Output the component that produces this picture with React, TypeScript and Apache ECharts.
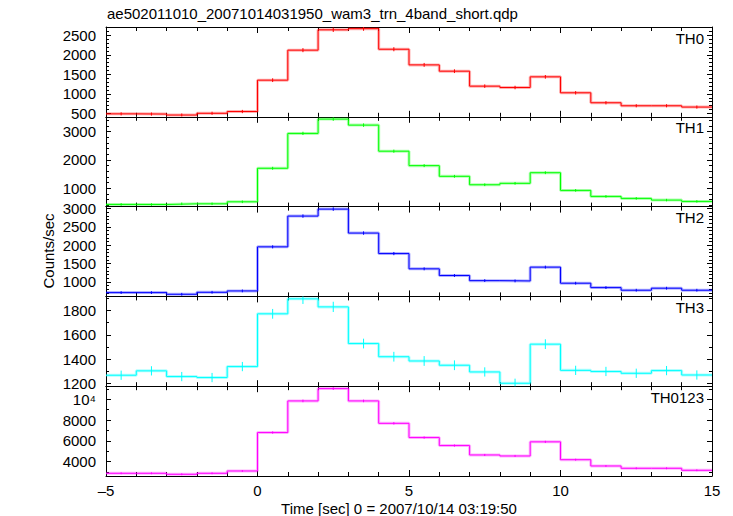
import React, { useEffect, useRef } from "react";
import * as echarts from "echarts";

// ---- data ----
const titleText = "ae502011010_20071014031950_wam3_trn_4band_short.qdp";
const xAxisTitle = "Time [sec] 0 = 2007/10/14 03:19:50";
const yAxisTitle = "Counts/sec";

const binEdges = [-5, -4, -3, -2, -1, 0, 1, 2, 3, 4, 5, 6, 7, 8, 9, 10, 11, 12, 13, 14, 15];
const bandNames = ["TH0", "TH1", "TH2", "TH3", "TH0123"];

const th0 = [490, 485, 460, 505, 550, 1352, 2120, 2640, 2670, 2143, 1743, 1582, 1199, 1164, 1437, 1029, 774, 697, 697, 664];
const th1 = [435, 432, 456, 456, 527, 1707, 2935, 3438, 3226, 2308, 1800, 1424, 1127, 1177, 1551, 929, 717, 647, 587, 541];
const th2 = [709, 709, 664, 718, 755, 1954, 2791, 2981, 2329, 1771, 1356, 1174, 1035, 1027, 1402, 965, 845, 774, 829, 774];
const th3 = [1269, 1305, 1258, 1250, 1340, 1773, 1896, 1830, 1529, 1421, 1386, 1351, 1296, 1203, 1524, 1309, 1300, 1285, 1307, 1271];
const th0123 = [2884, 2884, 2788, 2884, 3106, 6798, 9836, 11020, 9836, 7683, 6317, 5548, 4645, 4548, 5904, 4192, 3587, 3365, 3365, 3173];

const th0Err = [40, 40, 40, 40, 42, 48, 52, 55, 55, 52, 50, 48, 45, 45, 47, 44, 42, 40, 40, 40];
const th1Err = [45, 45, 45, 45, 46, 52, 58, 60, 60, 55, 52, 50, 48, 48, 50, 46, 45, 45, 44, 44];
const th2Err = [38, 38, 38, 38, 38, 42, 46, 48, 46, 44, 40, 40, 38, 38, 40, 38, 38, 38, 38, 38];
const th3Err = [38, 38, 38, 38, 38, 40, 42, 42, 40, 40, 40, 40, 38, 38, 40, 38, 38, 38, 38, 38];
const th0123Err = [90, 90, 90, 90, 92, 110, 125, 130, 125, 115, 110, 105, 100, 100, 105, 95, 92, 92, 92, 90];

const bandValues = [th0, th1, th2, th3, th0123];
const bandErrors = [th0Err, th1Err, th2Err, th3Err, th0123Err];

// axis extents / tick settings per panel
const yMins = [415, 358, 606, 1179, 2624];
const yMaxs = [2712, 3519, 3049, 1916, 11250];
const ySplits = [5, 3, 5, 4, 4];
const yMinorSplits = [5, 5, 5, 2, 2];
const xMin = -5;
const xMax = 15;
const xInterval = 5;

// ---- styles ----
const COLORS = ["#ff0000", "#00ff00", "#0000ff", "#00ffff", "#ff00ff"];
const HALOS = ["rgba(255,0,0,0.3)", "rgba(0,255,0,0.3)", "rgba(0,0,255,0.3)", "rgba(0,255,255,0.3)", "rgba(255,0,255,0.3)"];
const FONT = "'Liberation Sans', Arial, Helvetica, sans-serif";
const PLOT_LEFT = 106;
const PLOT_WIDTH = 606;
const PLOT_TOP = 27;
const PANEL_H = 89.8;

export default function App() {
  const ref = useRef<HTMLDivElement>(null);

  useEffect(() => {
    if (!ref.current) return;
    const chart = echarts.init(ref.current, null, { renderer: "svg" });

    const grids: any[] = [];
    const xAxes: any[] = [];
    const yAxes: any[] = [];
    const series: any[] = [];
    const graphics: any[] = [];

    bandNames.forEach((name, i) => {
      const top = PLOT_TOP + i * PANEL_H;
      grids.push({ left: PLOT_LEFT, width: PLOT_WIDTH, top, height: PANEL_H, containLabel: false });

      const xBase = {
        gridIndex: i,
        type: "value",
        min: xMin,
        max: xMax,
        interval: xInterval,
        axisLine: { show: true, onZero: false, lineStyle: { color: "#000", width: 1 } },
        axisTick: { show: true, inside: true, length: 6, lineStyle: { color: "#000", width: 1 } },
        minorTick: { show: true, splitNumber: 5, length: 4, lineStyle: { color: "#000", width: 1 } },
        splitLine: { show: false },
        minorSplitLine: { show: false },
      };
      xAxes.push({
        ...xBase,
        position: "bottom",
        axisLabel: {
          show: i === bandNames.length - 1,
          fontSize: 15,
          color: "#000",
          fontFamily: FONT,
          margin: 7,
          formatter: (v: number) => String(v).replace("-", "\u2013"),
        },
      });
      xAxes.push({ ...xBase, position: "top", axisLabel: { show: false } });

      const yBase = {
        gridIndex: i,
        type: "value",
        min: yMins[i],
        max: yMaxs[i],
        splitNumber: ySplits[i],
        scale: true,
        axisLine: { show: true, onZero: false, lineStyle: { color: "#000", width: 1 } },
        axisTick: { show: true, inside: true, length: 5, lineStyle: { color: "#000", width: 1 } },
        minorTick: { show: true, splitNumber: yMinorSplits[i], length: 3, lineStyle: { color: "#000", width: 1 } },
        splitLine: { show: false },
        minorSplitLine: { show: false },
      };
      yAxes.push({
        ...yBase,
        position: "left",
        axisLabel: {
          show: true,
          fontSize: 15,
          color: "#000",
          fontFamily: FONT,
          margin: 10,
          showMinLabel: false,
          showMaxLabel: false,
          formatter: (v: number) => (v === 10000 ? "10\u2074" : String(v)),
        },
      });
      yAxes.push({ ...yBase, position: "right", axisLabel: { show: false } });

      const vals = bandValues[i];
      const errs = bandErrors[i];
      const stepData = vals.map((v, k) => [binEdges[k], v]);
      stepData.push([binEdges[binEdges.length - 1], vals[vals.length - 1]]);

      series.push({
        type: "line",
        xAxisIndex: 2 * i,
        yAxisIndex: 2 * i,
        step: "end",
        data: stepData,
        showSymbol: false,
        symbol: "none",
        lineStyle: { color: HALOS[i], width: 3 },
        clip: true,
        silent: true,
        z: 1,
      });
      series.push({
        type: "line",
        name,
        xAxisIndex: 2 * i,
        yAxisIndex: 2 * i,
        step: "end",
        data: stepData,
        showSymbol: false,
        symbol: "none",
        lineStyle: { color: COLORS[i], width: 1 },
        clip: true,
        silent: true,
        z: 2,
      });

      const errData = vals.map((v, k) => [(binEdges[k] + binEdges[k + 1]) / 2, v - errs[k], v + errs[k]]);
      series.push({
        type: "custom",
        xAxisIndex: 2 * i,
        yAxisIndex: 2 * i,
        data: errData,
        encode: { x: 0, y: [1, 2] },
        clip: true,
        silent: true,
        z: 3,
        renderItem: (params: any, api: any) => {
          const x = api.value(0);
          const p1 = api.coord([x, api.value(1)]);
          const p2 = api.coord([x, api.value(2)]);
          return {
            type: "line",
            shape: { x1: p1[0], y1: p1[1], x2: p2[0], y2: p2[1] },
            style: { stroke: COLORS[i], lineWidth: 1 },
          };
        },
      });

      graphics.push({
        type: "text",
        x: 704,
        y: top + 11,
        style: {
          text: name,
          align: "right",
          verticalAlign: "middle",
          fontSize: 15,
          fontFamily: FONT,
          fill: "#000",
        },
      });
    });

    graphics.push({
      type: "text",
      x: 107,
      y: 13,
      style: { text: titleText, align: "left", verticalAlign: "middle", fontSize: 15, fontFamily: FONT, fill: "#000" },
    });
    graphics.push({
      type: "text",
      x: 399,
      y: 508,
      style: { text: xAxisTitle, align: "center", verticalAlign: "middle", fontSize: 15, fontFamily: FONT, fill: "#000" },
    });
    graphics.push({
      type: "text",
      x: 48,
      y: 251,
      rotation: Math.PI / 2,
      style: { text: yAxisTitle, align: "center", verticalAlign: "middle", fontSize: 15, fontFamily: FONT, fill: "#000" },
    });

    chart.setOption({
      animation: false,
      backgroundColor: "#ffffff",
      grid: grids,
      xAxis: xAxes,
      yAxis: yAxes,
      series,
      graphic: graphics,
    });

    return () => chart.dispose();
  }, []);

  return (
    <div
      ref={ref}
      style={{ position: "fixed", left: 0, top: 0, width: 733, height: 516, background: "#fff" }}
    />
  );
}
